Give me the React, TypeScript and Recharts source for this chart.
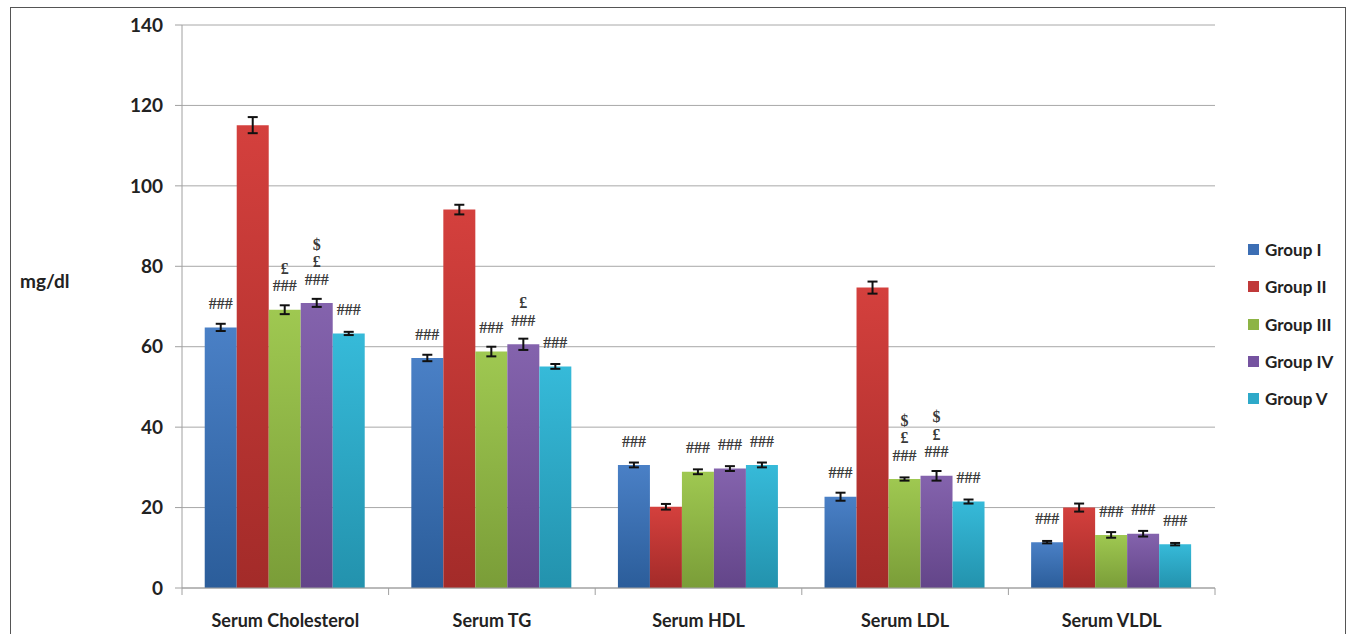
import React from 'react';
import { BarChart, Bar, XAxis, YAxis, CartesianGrid, ErrorBar, LabelList } from 'recharts';

const categories = ['Serum Cholesterol', 'Serum TG', 'Serum HDL', 'Serum LDL', 'Serum VLDL'];
const groups = ['Group I', 'Group II', 'Group III', 'Group IV', 'Group V'];

const group1 = [64.8, 57.2, 30.6, 22.7, 11.4];
const group2 = [115.1, 94.1, 20.2, 74.7, 20.0];
const group3 = [69.2, 58.8, 28.9, 27.1, 13.2];
const group4 = [70.9, 60.6, 29.7, 27.9, 13.5];
const group5 = [63.3, 55.1, 30.6, 21.5, 10.9];

const group1Err = [0.9, 0.8, 0.6, 1.0, 0.3];
const group2Err = [2.0, 1.2, 0.7, 1.5, 1.0];
const group3Err = [1.1, 1.2, 0.6, 0.4, 0.7];
const group4Err = [1.0, 1.4, 0.6, 1.2, 0.7];
const group5Err = [0.4, 0.6, 0.6, 0.5, 0.3];

// significance marks drawn above each bar, top line first
const group1Marks = ['###', '###', '###', '###', '###'];
const group2Marks = ['', '', '', '', ''];
const group3Marks = ['£|###', '###', '###', '$|£|###', '###'];
const group4Marks = ['$|£|###', '£|###', '###', '$|£|###', '###'];
const group5Marks = ['###', '###', '###', '###', '###'];

const yTicks = [0, 20, 40, 60, 80, 100, 120, 140];

const values = [group1, group2, group3, group4, group5];
const errors = [group1Err, group2Err, group3Err, group4Err, group5Err];
const marks = [group1Marks, group2Marks, group3Marks, group4Marks, group5Marks];

const colors = [
  ['#4A80C6', '#2B5D9A'],
  ['#D4403D', '#A32B29'],
  ['#9FC851', '#7A9D38'],
  ['#8463AD', '#634589'],
  ['#36BAD9', '#2392AD'],
];
const legendColors = ['#3C6EB4', '#C0393A', '#8DB445', '#7553A0', '#2EA9C9'];

const data = categories.map((name, i) => {
  const row: Record<string, string | number> = { name };
  values.forEach((v, g) => {
    row[`g${g}`] = v[i];
    row[`e${g}`] = errors[g][i];
    row[`m${g}`] = marks[g][i];
  });
  return row;
});

const font = 'Lato, "Open Sans", sans-serif';

const MarkLabel = (props: any) => {
  const { x, y, width, value } = props;
  if (!value) return null;
  const lines = String(value).split('|');
  const cx = x + width / 2;
  const base = y - 22;
  return (
    <g>
      {lines.map((t, k) => (
        <text
          key={k}
          x={cx}
          y={base - (lines.length - 1 - k) * 17.5}
          textAnchor="middle"
          dominantBaseline="middle"
          fontFamily='"Liberation Serif", serif'
          fontWeight={700}
          fontSize={16}
          fill="#3a3a3a"
        >
          {t}
        </text>
      ))}
    </g>
  );
};

const CategoryTick = (props: any) => {
  const { x, y, payload, index } = props;
  const off = payload?.offset ?? 0;
  return (
    <g>
      <line x1={x - off} y1={y} x2={x - off} y2={y + 7} stroke="#A0A0A0" />
      {index === categories.length - 1 && (
        <line x1={x + off} y1={y} x2={x + off} y2={y + 7} stroke="#A0A0A0" />
      )}
      <text x={x} y={y + 39} textAnchor="middle" fontFamily={font} fontWeight={700} fontSize={18} fill="#222">
        {payload.value}
      </text>
    </g>
  );
};

export default function App() {
  return (
    <div
      style={{
        position: 'absolute',
        left: 10,
        top: 7,
        width: 1334,
        height: 640,
        border: '1px solid #555',
        background: '#fff',
      }}
    >
      <BarChart
        width={1334}
        height={627}
        data={data}
        margin={{ top: 17, right: 130, bottom: 7, left: 9 }}
        barCategoryGap="11%"
        barGap={0}
      >
        <defs>
          {colors.map((c, g) => (
            <linearGradient key={g} id={`grad${g}`} x1="0" y1="0" x2="0" y2="1">
              <stop offset="0%" stopColor={c[0]} />
              <stop offset="100%" stopColor={c[1]} />
            </linearGradient>
          ))}
        </defs>
        <CartesianGrid vertical={false} stroke="#A8A8A8" />
        <XAxis
          dataKey="name"
          height={40}
          tickSize={0}
          tickMargin={0}
          tickLine={false}
          axisLine={{ stroke: '#A0A0A0' }}
          tick={<CategoryTick />}
          interval={0}
        />
        <YAxis
          width={162}
          domain={[0, 140]}
          ticks={yTicks}
          tickSize={7}
          tickMargin={12}
          axisLine={{ stroke: '#A0A0A0' }}
          tickLine={{ stroke: '#A0A0A0' }}
          tick={{ fontFamily: font, fontWeight: 700, fontSize: 19, fill: '#222' }}
          label={{
            value: 'mg/dl',
            position: 'insideLeft',
            offset: 0,
            dy: -25,
            style: { fontFamily: font, fontWeight: 700, fontSize: 19, fill: '#222' },
          }}
        />
        {groups.map((name, g) => (
          <Bar key={name} dataKey={`g${g}`} name={name} fill={`url(#grad${g})`} isAnimationActive={false}>
            <ErrorBar dataKey={`e${g}`} width={5} stroke="#111" strokeWidth={2} />
            <LabelList dataKey={`m${g}`} content={<MarkLabel />} />
          </Bar>
        ))}
      </BarChart>
      <div style={{ position: 'absolute', left: 1237, top: 223 }}>
        {groups.map((name, g) => (
          <div key={name} style={{ display: 'flex', alignItems: 'center', height: 37.3 }}>
            <div style={{ width: 11, height: 11, background: legendColors[g], marginRight: 6 }} />
            <span style={{ fontFamily: font, fontWeight: 700, fontSize: 17, color: '#222' }}>{name}</span>
          </div>
        ))}
      </div>
    </div>
  );
}
